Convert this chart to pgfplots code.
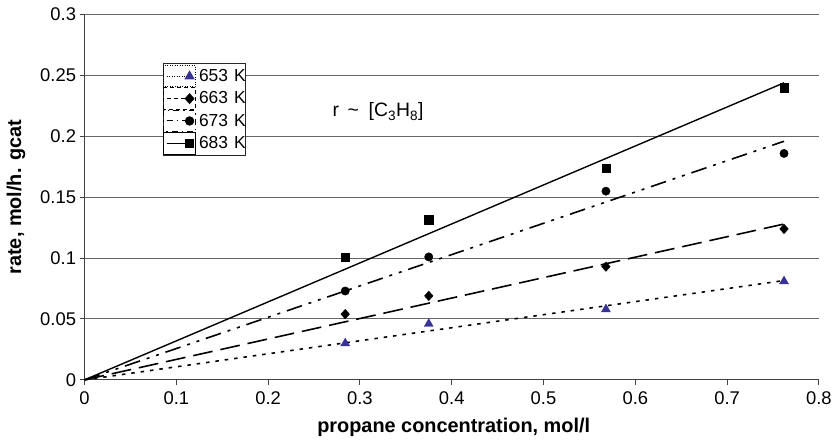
\documentclass[border=0pt]{standalone}
\usepackage{pgfplots}
\pgfplotsset{compat=1.18}
\usepackage{fontspec}
\setmainfont{Liberation Sans}
\definecolor{triblue}{RGB}{55,50,150}
\begin{document}
\begin{tikzpicture}
\begin{axis}[
  scale only axis,
  width=736bp, height=366bp,
  xmin=0, xmax=0.8, ymin=0, ymax=0.3,
  xtick={0,0.1,...,0.8},
  ytick={0,0.05,...,0.3},
  /pgf/number format/assume math mode=true,
  /pgf/number format/fixed,
  /pgf/number format/precision=2,
  axis x line=bottom, axis y line=left,
  axis line style={-, draw=black!75, line width=1pt},
  tick style={draw=black!75, line width=1pt},
  tick align=outside, major tick length=5bp,
  ymajorgrids, grid style={draw=black!60, line width=1pt},
  ticklabel style={font=\fontsize{18.5}{20}\selectfont},
  xticklabel style={yshift=-3.5bp},
  xlabel={\textbf{propane concentration, mol/l}},
  ylabel={\textbf{rate, mol/h. gcat}},
  label style={font=\fontsize{20}{22}\selectfont},
  xlabel style={at={(axis description cs:0.5,0)}, anchor=base, yshift=-52.3bp, xshift=2bp},
  ylabel style={at={(axis description cs:-0.0933,0.5)}, anchor=center},
  clip=false,
  legend cell align=left,
  legend style={at={(axis cs:0.0851,0.2602)}, anchor=north west,
    font=\fontsize{17.5}{19}\selectfont, draw=black!85, line width=1pt,
    fill=white, inner xsep=0bp, inner ysep=1.5bp, row sep=0bp, column sep=3bp,
    nodes={inner sep=0bp}},
  legend image code/.code={
    \path (-3bp,-10.7bp) rectangle (29bp,10.7bp);
    \draw[#1,mark=none] (0bp,0bp) -- (23bp,0bp);
    \draw[#1,solid] plot coordinates {(23bp,0bp)};
  },
]
% fitted lines
\addplot[forget plot, black, line width=1.6pt, dash pattern=on 3.5pt off 6pt] coordinates {(0,0) (0.762,0.0816)};
\addplot[forget plot, black, line width=1.6pt, dash pattern=on 20pt off 8pt] coordinates {(0,0) (0.762,0.128)};
\addplot[forget plot, black, line width=1.6pt, dash pattern=on 16pt off 7pt on 3pt off 7pt on 3pt off 7pt] coordinates {(0,0) (0.762,0.196)};
\addplot[forget plot, black, line width=1.4pt] coordinates {(0,0) (0.762,0.244)};
% data
\addplot[forget plot, only marks, mark=triangle*, mark size=5.2pt, triblue] coordinates {(0.284,0.030) (0.375,0.046) (0.568,0.058) (0.762,0.081)};
\addplot[forget plot, only marks, mark=diamond*, mark size=4.8pt, mark options={xscale=1.2}, black] coordinates {(0.284,0.054) (0.375,0.069) (0.568,0.093) (0.762,0.124)};
\addplot[forget plot, only marks, mark=*, mark size=4.2pt, black] coordinates {(0.284,0.073) (0.375,0.101) (0.568,0.155) (0.762,0.186)};
\addplot[forget plot, only marks, mark=square*, mark size=4.2pt, black] coordinates {(0.284,0.1006) (0.375,0.1317) (0.568,0.174) (0.762,0.240)};
% legend
\addlegendimage{black, line width=1pt, dash pattern=on 1pt off 1.5pt, mark=triangle*, mark size=5pt, mark options={triblue,solid}}
\addlegendentry{653\hspace{0.35em}K\hspace{5bp}}
\addlegendimage{black, line width=1pt, dash pattern=on 4pt off 3pt, mark=diamond*, mark size=4.8pt, mark options={solid,xscale=1.2}}
\addlegendentry{663\hspace{0.35em}K\hspace{5bp}}
\addlegendimage{black, line width=1pt, dash pattern=on 6pt off 4pt on 1.5pt off 4pt, mark=*, mark size=4.2pt, mark options={solid}}
\addlegendentry{673\hspace{0.35em}K\hspace{5bp}}
\addlegendimage{black, line width=1pt, mark=square*, mark size=4.2pt}
\addlegendentry{683\hspace{0.35em}K\hspace{5bp}}
\node[anchor=base west, inner sep=0pt, font=\fontsize{19.5}{21}\selectfont] at (axis cs:0.27,0.216) {r\hspace{0.45em}\textasciitilde\hspace{0.5em}[C\textsubscript{3}H\textsubscript{8}]};
\path (rel axis cs:0,0) ++(-84.7bp,-59.3bp) coordinate (bbA);
\path (rel axis cs:1,1) ++(14.3bp,14.7bp) coordinate (bbB);
\end{axis}
\end{tikzpicture}
\end{document}
